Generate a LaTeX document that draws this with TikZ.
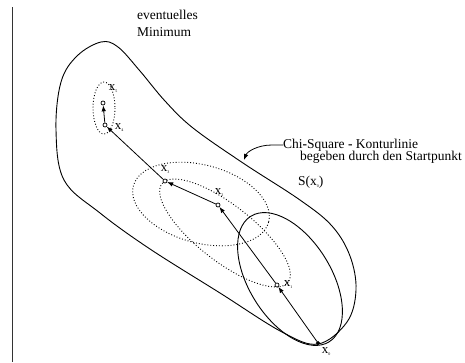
\documentclass[tikz,border=0pt]{standalone}
\usepackage{fontspec}
\setmainfont{Liberation Serif}
\usetikzlibrary{arrows.meta}
\begin{document}
\begin{tikzpicture}[x=1pt,y=-1pt,
  lbl/.style={font=\fontsize{13.5}{12}\selectfont, inner sep=0pt, align=left},
  ptlbl/.style={font=\fontsize{13}{13}\selectfont, inner sep=0pt},
  opt/.style={circle, draw, fill=white, inner sep=0pt, minimum size=4pt, line width=0.7pt},
  fpt/.style={circle, draw, fill=black, inner sep=0pt, minimum size=3.5pt},
  stepar/.style={-{Latex[length=6pt,width=4.5pt]}, line width=0.8pt},
  dotline/.style={dotted, line width=0.9pt},
  solidline/.style={line width=0.9pt},
]
\useasboundingbox (0,0) rectangle (465,362);
\newcommand{\sbx}[1]{x\raisebox{-2pt}{\fontsize{4}{4}\selectfont #1}}
% left rule
\draw[line width=0.9pt, black!80] (12,7) -- (12,362);

% outer contour
\draw[solidline] plot[smooth cycle, tension=0.6] coordinates {
 (101,42) (118,47) (140,71) (165,101) (193,128) (243,163) (300,200) (332,226)
 (350,256) (356,290) (347,322) (318,344) (282,332) (220,293)
 (150,249) (100,213) (64,180) (56,130) (61,82) (77,56)};

% solid ellipse
\draw[solidline, rotate around={-58:(290,279)}] (290,279) ellipse (74 and 41);

% dotted ellipses
\draw[dotline] (104,108) ellipse (11 and 26);
\draw[dotline, rotate around={-15:(201,204)}] (201,204) ellipse (70 and 39);
\draw[dotline, rotate around={-38:(225,233)}] (225,233) ellipse (80 and 28);

% points
\node[fpt] (x0) at (318,343) {};
\node[opt] (x1) at (277,285) {};
\node[opt] (x2) at (218,205) {};
\node[opt] (x3) at (165,181) {};
\node[opt] (x4) at (105,125) {};
\node[opt] (x5) at (103,103) {};

\draw[stepar] (x0) -- (x1);
\draw[stepar] (x1) -- (x2);
\draw[stepar] (x2) -- (x3);
\draw[stepar] (x3) -- (x4);
\draw[stepar] (x4) -- (x5);

% point labels
\node[ptlbl] (l0) at (326,352) {\sbx{0}};
\node[ptlbl] (l1) at (288,285) {\sbx{1}};
\node[ptlbl] (l2) at (219,193) {\sbx{2}};
\node[ptlbl] (l3) at (165,170) {\sbx{3}};
\node[ptlbl] (l4) at (119,128) {\sbx{4}};
\node[ptlbl] (l5) at (113,89) {\sbx{5}};

% texts
\node[lbl, anchor=west] (ev) at (137,15) {eventuelles};
\node[lbl, anchor=west] (min) at (137,32) {Minimum};
\node[lbl, anchor=west] (chi) at (283,145) {Chi\textbf{-}Square \textbf{-} Konturlinie};
\node[lbl, anchor=west] (beg) at (300,157) {begeben durch den Startpunkt};
\node[lbl, anchor=west] (sx) at (298,182) {S(\sbx{0})};

\coordinate (tip) at (244,160);
\draw[line width=0.8pt, -{Latex[length=6pt,width=4.5pt]}] (chi.west) -- (272,145) .. controls (257,145) and (247,152) .. (tip);
\end{tikzpicture}
\end{document}
